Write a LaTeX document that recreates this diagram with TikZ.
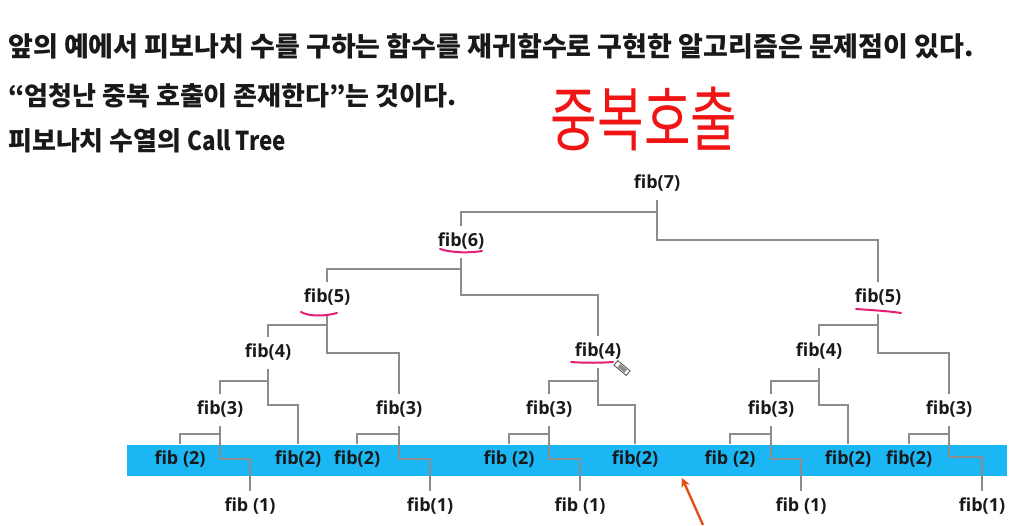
\documentclass[tikz,border=0pt]{standalone}
\usepackage{fontspec}
\newfontfamily\kr{Noto Sans CJK KR}[WordSpace=1.6]
\newfontfamily\krhand{Noto Sans CJK KR}
\newfontfamily\lab{Open Sans}
\usetikzlibrary{arrows.meta}
\definecolor{band}{RGB}{27,183,245}
\definecolor{conn}{RGB}{140,140,140}
\definecolor{mag}{RGB}{228,30,120}
\definecolor{pen}{RGB}{240,20,20}
\definecolor{arr}{RGB}{228,80,20}
\definecolor{ink}{RGB}{25,25,25}
\tikzset{
  fibnode/.style={font=\lab\bfseries\fontsize{18}{20}\selectfont, text=ink, inner sep=0pt, text height=12.5pt, text depth=3.5pt, minimum height=32pt},
  link/.style={draw=conn, line width=1.3pt},
  uline/.style={draw=mag, line width=2pt, line cap=round},
  headline/.style={anchor=west, inner sep=0pt, text=ink, font=\kr\bfseries\fontsize{26}{30}\selectfont}
}
\begin{document}
\begin{tikzpicture}[x=1pt,y=-1pt]
\useasboundingbox (0,0) rectangle (1016,525);
% heading text
\node[headline, font=\kr\bfseries\fontsize{27}{30}\selectfont] (t1) at (8,46) {앞의 예에서 피보나치 수를 구하는 함수를 재귀함수로 구현한 알고리즘은 문제점이 있다.};
\node[headline] (t2) at (8,96) {“엄청난 중복 호출이 존재한다”는 것이다.};
\node[headline] (t3) at (8,141) {피보나치 수열의 \scalebox{0.86}[1]{Call Tree}};
% handwritten note
\node[inner sep=0pt, text=pen, font=\krhand\fontsize{44}{50}\selectfont] (hw) at (644,119) {\scalebox{1.15}[1.6]{중복호출}};
% band
\fill[band] (127,445) rectangle (1007,476);
% nodes
\node[fibnode] (f7) at (657,184) {fib(7)};
\node[fibnode] (f6) at (461,242) {fib(6)};
\node[fibnode] (f5a) at (327,298) {fib(5)};
\node[fibnode] (f5b) at (878,298) {fib(5)};
\node[fibnode] (f4a) at (268,353) {fib(4)};
\node[fibnode] (f4b) at (598,352) {fib(4)};
\node[fibnode] (f4c) at (819,352) {fib(4)};
\node[fibnode] (f3a) at (220,410) {fib(3)};
\node[fibnode] (f3b) at (399,410) {fib(3)};
\node[fibnode] (f3c) at (549,410) {fib(3)};
\node[fibnode] (f3d) at (771,410) {fib(3)};
\node[fibnode] (f3e) at (949,410) {fib(3)};
\node[fibnode] (f2a) at (180,460) {fib (2)};
\node[fibnode] (f2b) at (298,460) {fib(2)};
\node[fibnode] (f2c) at (357,460) {fib(2)};
\node[fibnode] (f2d) at (509,460) {fib (2)};
\node[fibnode] (f2e) at (635,460) {fib(2)};
\node[fibnode] (f2f) at (730,460) {fib (2)};
\node[fibnode] (f2g) at (848,460) {fib(2)};
\node[fibnode] (f2h) at (909,460) {fib(2)};
\node[fibnode] (f1a) at (250,507) {fib (1)};
\node[fibnode] (f1b) at (430,507) {fib(1)};
\node[fibnode] (f1c) at (580,507) {fib (1)};
\node[fibnode] (f1d) at (801,507) {fib (1)};
\node[fibnode] (f1e) at (982,507) {fib(1)};
% connectors: left child (bar1), right child (bar2)
\draw[link] (f7.south) |- (f6.north |- 0,212) -- (f6.north);
\draw[link] (f7.south) |- (f5b.north |- 0,240) -- (f5b.north);
\draw[link] (f6.south) |- (f5a.north |- 0,269) -- (f5a.north);
\draw[link] (f6.south) |- (f4b.north |- 0,295) -- (f4b.north);
\draw[link] (f5a.south) |- (f4a.north |- 0,325) -- (f4a.north);
\draw[link] (f5a.south) |- (f3b.north |- 0,353) -- (f3b.north);
\draw[link] (f5b.south) |- (f4c.north |- 0,325) -- (f4c.north);
\draw[link] (f5b.south) |- (f3e.north |- 0,353) -- (f3e.north);
\draw[link] (f4a.south) |- (f3a.north |- 0,381) -- (f3a.north);
\draw[link] (f4a.south) |- (f2b.north |- 0,405) -- (f2b.north);
\draw[link] (f4b.south) |- (f3c.north |- 0,381) -- (f3c.north);
\draw[link] (f4b.south) |- (f2e.north |- 0,405) -- (f2e.north);
\draw[link] (f4c.south) |- (f3d.north |- 0,381) -- (f3d.north);
\draw[link] (f4c.south) |- (f2g.north |- 0,405) -- (f2g.north);
\draw[link] (f3a.south) |- (f2a.north |- 0,434) -- (f2a.north);
\draw[link] (f3a.south) |- (f1a.north |- 0,459) -- (f1a.north);
\draw[link] (f3b.south) |- (f2c.north |- 0,434) -- (f2c.north);
\draw[link] (f3b.south) |- (f1b.north |- 0,459) -- (f1b.north);
\draw[link] (f3c.south) |- (f2d.north |- 0,434) -- (f2d.north);
\draw[link] (f3c.south) |- (f1c.north |- 0,459) -- (f1c.north);
\draw[link] (f3d.south) |- (f2f.north |- 0,434) -- (f2f.north);
\draw[link] (f3d.south) |- (f1d.north |- 0,459) -- (f1d.north);
\draw[link] (f3e.south) |- (f2h.north |- 0,434) -- (f2h.north);
\draw[link] (f3e.south) |- (f1e.north |- 0,457) -- (f1e.north);
% red underlines
\draw[uline] (440,249) .. controls (452,253) and (470,253) .. (482,251);
\draw[uline] (301,312) .. controls (310,317) and (326,316) .. (337,313);
\draw[uline] (856,309) .. controls (870,310) and (888,311) .. (901,313);
\draw[uline] (571,362) .. controls (585,363) and (600,363) .. (613,362);
% pencil cursor
\node[draw=black!70, fill=white, line width=0.8pt, minimum width=16pt, minimum height=6pt, inner sep=0pt, rotate=-40] (cur) at (622,368) {};
\fill[black!45, rotate around={-40:(622,368)}] (618,366) rectangle (627,370);
% orange arrow
\coordinate (as) at (703,525);
\coordinate (ae) at (682,478);
\draw[arr, line width=2.4pt, -{Stealth[length=9pt,width=9pt]}] (as) -- (ae);
\end{tikzpicture}
\end{document}
